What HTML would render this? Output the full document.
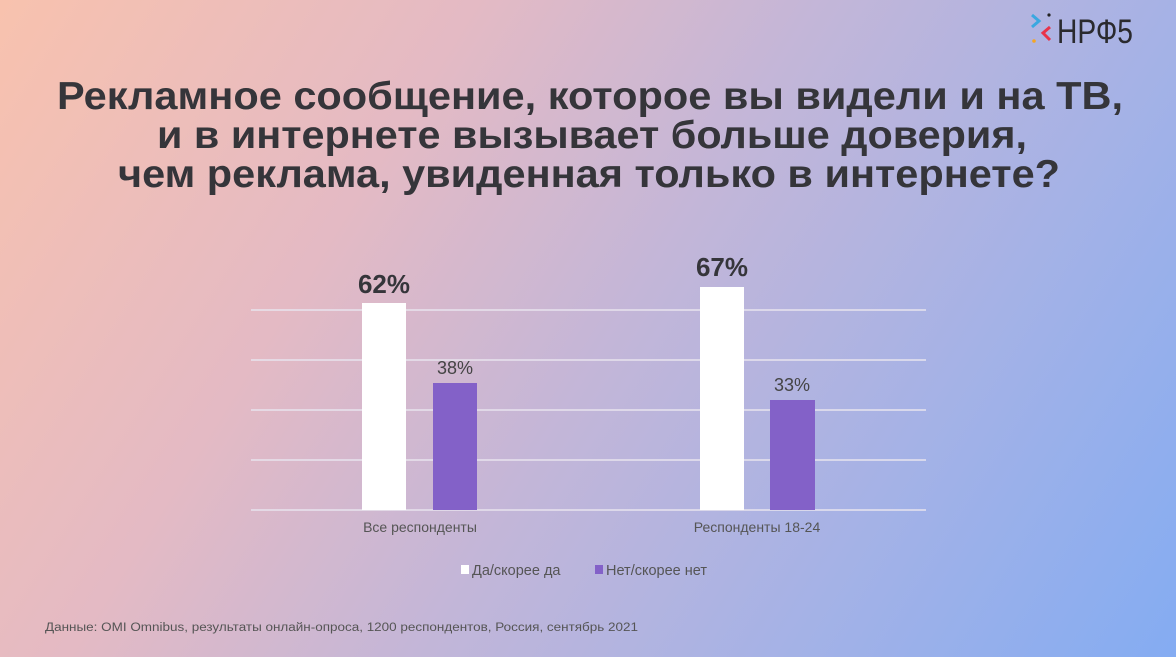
<!DOCTYPE html>
<html><head><meta charset="utf-8"><style>
html,body{margin:0;padding:0}
body{width:1176px;height:657px;overflow:hidden;position:relative;font-family:"Liberation Sans",sans-serif;
background:linear-gradient(122deg,#f8c2ae 0%,#e4bac4 30%,#c3b6d8 52%,#a5b2e6 75%,#84acf2 100%);}
svg{position:absolute;left:0;top:0}
</style></head><body>
<svg width="1176" height="657" viewBox="0 0 1176 657">
<g font-family="Liberation Sans, sans-serif" font-weight="bold" fill="#35353a" font-size="39">
<text x="57" y="109" textLength="1066" lengthAdjust="spacingAndGlyphs">Рекламное сообщение, которое вы видели и на ТВ,</text>
<text x="157" y="148" textLength="870" lengthAdjust="spacingAndGlyphs">и в интернете вызывает больше доверия,</text>
<text x="118" y="187" textLength="942" lengthAdjust="spacingAndGlyphs">чем реклама, увиденная только в интернете?</text>
</g>
<!-- logo -->
<g>
<polyline points="1032,15 1039,21 1032,27" fill="none" stroke="#3aa8e0" stroke-width="3"/>
<polyline points="1050,27 1043,33 1050,40" fill="none" stroke="#e8334a" stroke-width="3"/>
<circle cx="1049" cy="15" r="1.6" fill="#222"/>
<circle cx="1034" cy="41" r="1.8" fill="#f5a623"/>
<text x="1057" y="43" font-size="34" fill="#2a2a2e" font-family="Liberation Sans Narrow, Liberation Sans, sans-serif" textLength="76" lengthAdjust="spacingAndGlyphs">НРФ5</text>
</g>
<!-- grid -->
<g stroke="#e8e4ee" stroke-width="1.5">
<line x1="251" y1="310" x2="926" y2="310"/>
<line x1="251" y1="360" x2="926" y2="360"/>
<line x1="251" y1="410" x2="926" y2="410"/>
<line x1="251" y1="460" x2="926" y2="460"/>
<line x1="251" y1="510" x2="926" y2="510"/>
</g>
<rect x="362" y="303" width="44" height="207" fill="#fff"/>
<rect x="433" y="383" width="44" height="127" fill="#8361c8"/>
<rect x="700" y="287" width="44" height="223" fill="#fff"/>
<rect x="770" y="400" width="45" height="110" fill="#8361c8"/>
<g font-family="Liberation Sans, sans-serif" text-anchor="middle">
<text x="384" y="293" font-size="26" font-weight="bold" fill="#35353a">62%</text>
<text x="722" y="276" font-size="26" font-weight="bold" fill="#35353a">67%</text>
<text x="455" y="374" font-size="18" fill="#444">38%</text>
<text x="792" y="391" font-size="18" fill="#444">33%</text>
<text x="420" y="532" font-size="14" fill="#555">Все респонденты</text>
<text x="757" y="532" font-size="14" fill="#555">Респонденты 18-24</text>
</g>
<rect x="461" y="565" width="8" height="9" fill="#fff"/>
<text x="472" y="575" font-size="14.5" fill="#555" font-family="Liberation Sans, sans-serif">Да/скорее да</text>
<rect x="595" y="565" width="8" height="9" fill="#8361c8"/>
<text x="606" y="575" font-size="14.5" fill="#555" font-family="Liberation Sans, sans-serif">Нет/скорее нет</text>
<text x="45" y="631" font-size="11.5" fill="#555" font-family="Liberation Sans, sans-serif" textLength="593" lengthAdjust="spacingAndGlyphs">Данные: OMI Omnibus, результаты онлайн-опроса, 1200 респондентов, Россия, сентябрь 2021</text>
</svg>
</body></html>
